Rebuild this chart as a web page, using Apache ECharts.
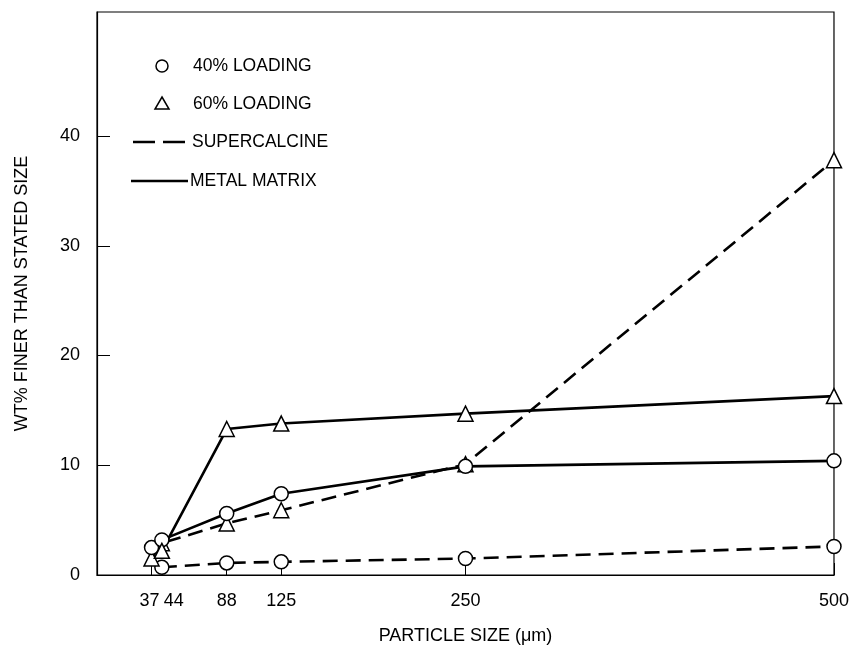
<!DOCTYPE html>
<html>
<head>
<meta charset="utf-8">
<script src="https://cdn.jsdelivr.net/npm/echarts@6/dist/echarts.min.js"></script>
<style>html,body{margin:0;padding:0;background:#fff}#c{width:852px;height:652px}</style>
</head>
<body>
<div id="c"></div>
<script>
// Particle sizes (µm) and tick labels
const xTicks = [37, 44, 88, 125, 250, 500];
const yTicks = [0, 10, 20, 30, 40];

// 40% loading, supercalcine (dashed, circles)
const load40Super = [[44, 0.7], [88, 1.1], [125, 1.2], [250, 1.5], [500, 2.6]];
// 40% loading, metal matrix (solid, circles)
const load40Metal = [[37, 2.5], [44, 3.2], [88, 5.6], [125, 7.4], [250, 9.9], [500, 10.4]];
// 60% loading, supercalcine (dashed, triangles)
const load60Super = [[37, 1.5], [44, 2.9], [88, 4.7], [125, 5.9], [250, 10.1], [500, 37.8]];
// 60% loading, metal matrix (solid, triangles)
const load60Metal = [[44, 2.2], [88, 13.3], [125, 13.8], [250, 14.7], [500, 16.3]];

const FONT = '"Liberation Sans", Arial, sans-serif';
const dash = [15, 8];

function mk(name, data, symbol, dashed) {
  return {
    name: name, type: 'line', data: data,
    symbol: symbol, symbolSize: symbol === 'triangle' ? 15 : 14,
    showSymbol: true,
    lineStyle: { color: '#000', width: 2.6, type: dashed ? dash : 'solid' },
    itemStyle: { color: '#fff', borderColor: '#000', borderWidth: 1.5 },
    emphasis: { disabled: true },
    z: 3
  };
}

const labelStyle = { hideOverlap: false, margin: 17, fontFamily: FONT, fontSize: 18, color: '#000' };

const chart = echarts.init(document.getElementById('c'));
chart.setOption({
  animation: false,
  backgroundColor: '#fff',
  grid: { left: 97, right: 17, top: 12, bottom: 77, show: true, borderColor: '#000', borderWidth: 1.2, backgroundColor: 'transparent' },
  xAxis: [{
    type: 'value', min: 0, max: 500,
    name: 'PARTICLE SIZE (μm)', nameLocation: 'middle', nameGap: 52,
    nameTextStyle: { fontFamily: FONT, fontSize: 18, color: '#000' },
    axisLine: { show: true, lineStyle: { color: '#000', width: 1.2 } },
    axisTick: { show: true, inside: true, length: 12, customValues: xTicks, lineStyle: { color: '#000', width: 1 } },
    axisLabel: Object.assign({}, labelStyle, {
      customValues: xTicks.slice(1),
      formatter: function (v) { return v === 44 ? '{b|44}' : String(v); },
      rich: { b: { fontFamily: FONT, fontSize: 18, color: '#000', padding: [0, 0, 0, 24] } }
    }),
    splitLine: { show: false }
  }, {
    type: 'value', min: 0, max: 500, position: 'bottom', gridIndex: 0,
    axisLine: { show: false }, axisTick: { show: false }, splitLine: { show: false },
    axisLabel: Object.assign({}, labelStyle, {
      customValues: xTicks.slice(0, 1),
      formatter: function (v) { return '{a|' + v + '}'; },
      rich: { a: { fontFamily: FONT, fontSize: 18, color: '#000', padding: [0, 4, 0, 0] } }
    })
  }],
  yAxis: {
    type: 'value', min: 0, max: 51.3,
    name: 'WT% FINER THAN STATED SIZE', nameLocation: 'middle', nameGap: 66,
    nameTextStyle: { fontFamily: FONT, fontSize: 18, color: '#000' },
    axisLine: { show: true, lineStyle: { color: '#000', width: 1.2 } },
    axisTick: { show: true, inside: true, length: 13, customValues: yTicks, lineStyle: { color: '#000', width: 1 } },
    axisLabel: { customValues: yTicks, margin: 17, fontFamily: FONT, fontSize: 18, color: '#000' },
    splitLine: { show: false }
  },
  series: [
    mk('40% SUPERCALCINE', load40Super, 'circle', true),
    mk('60% SUPERCALCINE', load60Super, 'triangle', true),
    mk('40% METAL MATRIX', load40Metal, 'circle', false),
    mk('60% METAL MATRIX', load60Metal, 'triangle', false)
  ],
  graphic: [
    { type: 'circle', shape: { cx: 162, cy: 66, r: 6 }, style: { fill: '#fff', stroke: '#000', lineWidth: 1.5 } },
    { type: 'text', style: { x: 193, y: 66, text: '40% LOADING', font: '17.5px ' + FONT, fill: '#000', verticalAlign: 'middle' } },
    { type: 'polygon', shape: { points: [[162, 97], [169, 109], [155, 109]] }, style: { fill: '#fff', stroke: '#000', lineWidth: 1.5 } },
    { type: 'text', style: { x: 193, y: 104, text: '60% LOADING', font: '17.5px ' + FONT, fill: '#000', verticalAlign: 'middle' } },
    { type: 'line', shape: { x1: 133, y1: 142, x2: 188, y2: 142 }, style: { stroke: '#000', lineWidth: 2.6, lineDash: [22, 8] } },
    { type: 'text', style: { x: 192, y: 142, text: 'SUPERCALCINE', font: '17.5px ' + FONT, fill: '#000', verticalAlign: 'middle' } },
    { type: 'line', shape: { x1: 131, y1: 181, x2: 188, y2: 181 }, style: { stroke: '#000', lineWidth: 2.6 } },
    { type: 'text', style: { x: 190, y: 181, text: 'METAL MATRIX', font: '17.5px ' + FONT, fill: '#000', verticalAlign: 'middle' } }
  ]
});
</script>
</body>
</html>
